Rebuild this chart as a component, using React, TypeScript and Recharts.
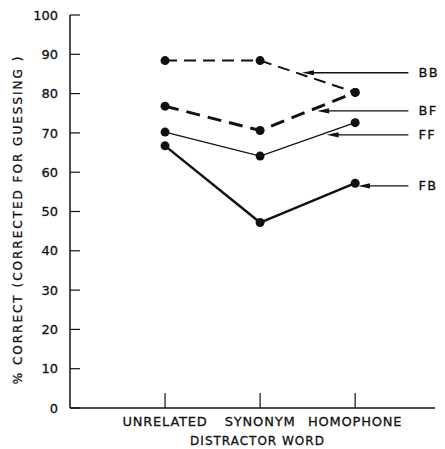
import { LineChart, Line, XAxis, YAxis, ReferenceLine } from "recharts";

const categories = ["UNRELATED", "SYNONYM", "HOMOPHONE"];
const bbValues = [88.4, 88.4, 80.3];
const bfValues = [76.8, 70.6, 80.3];
const ffValues = [70.2, 64.1, 72.6];
const fbValues = [66.7, 47.2, 57.2];
const yTicks = [0, 10, 20, 30, 40, 50, 60, 70, 80, 90, 100];

// arrow annotations pointing at the curves (x in category units, y in %)
const arrowLabels = ["BB", "BF", "FF", "FB"];
const arrowY = [85.3, 75.6, 69.5, 56.5];
const arrowTipX = [2.44, 2.6, 2.7, 3.03];
const arrowTailX = 3.56;

const data = categories.map((c, i) => ({
  x: i + 1,
  name: c,
  BB: bbValues[i],
  BF: bfValues[i],
  FF: ffValues[i],
  FB: fbValues[i],
}));

const font = "'DejaVu Sans', sans-serif";
const ink = "#111";

const arrowShape = (label: string) => (p: any) => {
  const tip = Math.min(p.x1, p.x2);
  const tail = Math.max(p.x1, p.x2);
  const y = p.y1;
  return (
    <g>
      <line x1={tip + 8} y1={y} x2={tail} y2={y} stroke={ink} strokeWidth={1.3} />
      <polygon points={`${tip},${y} ${tip + 12},${y - 2.6} ${tip + 12},${y + 2.6}`} fill={ink} />
      <text x={tail + 10} y={y} dominantBaseline="central" fontFamily={font} fontSize={13} letterSpacing={1.5} fill={ink} stroke={ink} strokeWidth={0.3}>
        {label}
      </text>
    </g>
  );
};

const dot = { r: 4.5, fill: ink, stroke: ink, strokeWidth: 0 };
const tickText = { fill: ink, fontFamily: font, stroke: ink, strokeWidth: 0.3 };

export default function App() {
  return (
    <div style={{ position: "absolute", left: 0, top: 0, background: "#fff" }}>
      <LineChart width={445} height={449} data={data} margin={{ top: 15, right: 10, bottom: 0, left: 0 }}>
        <XAxis
          dataKey="x"
          type="number"
          domain={[0, 3.84]}
          ticks={[1, 2, 3]}
          tickFormatter={(v) => categories[v - 1]}
          height={41}
          axisLine={{ stroke: ink, strokeWidth: 1.5 }}
          tickLine={{ stroke: ink, strokeWidth: 1.2 }}
          tickSize={-15}
          tickMargin={24}
          tick={{ ...tickText, fontSize: 13, letterSpacing: 0.8 }}
          label={{ value: "DISTRACTOR WORD", position: "insideBottom", offset: 4, fontSize: 12, letterSpacing: 1, dx: 5, ...tickText }}
        />
        <YAxis
          type="number"
          domain={[0, 100]}
          ticks={yTicks}
          width={70}
          axisLine={{ stroke: ink, strokeWidth: 1.5 }}
          tickLine={{ stroke: ink, strokeWidth: 1.2 }}
          tickSize={-10}
          tickMargin={22}
          tick={{ ...tickText, fontSize: 13 }}
          label={{
            content: (p: any) => {
              const vb = p.viewBox;
              const cx = vb.x + 18;
              const cy = vb.y + vb.height / 2 + 8;
              return (
                <text x={cx} y={cy} transform={`rotate(-90 ${cx} ${cy})`} textAnchor="middle" dominantBaseline="central" fontFamily={font} fontSize={12} letterSpacing={2} fill={ink} stroke={ink} strokeWidth={0.3}>
                  % CORRECT (CORRECTED FOR GUESSING )
                </text>
              );
            },
          }}
        />
        <Line dataKey="BB" type="linear" stroke={ink} strokeWidth={2} strokeDasharray="12 7" dot={dot} activeDot={false} isAnimationActive={false} />
        <Line dataKey="BF" type="linear" stroke={ink} strokeWidth={3} strokeDasharray="14 8" dot={dot} activeDot={false} isAnimationActive={false} />
        <Line dataKey="FF" type="linear" stroke={ink} strokeWidth={1.4} dot={dot} activeDot={false} isAnimationActive={false} />
        <Line dataKey="FB" type="linear" stroke={ink} strokeWidth={2.4} dot={dot} activeDot={false} isAnimationActive={false} />
        {arrowLabels.map((label, i) => (
          <ReferenceLine
            key={label}
            segment={[{ x: arrowTipX[i], y: arrowY[i] }, { x: arrowTailX, y: arrowY[i] }]}
            ifOverflow="visible"
            shape={arrowShape(label)}
          />
        ))}
      </LineChart>
    </div>
  );
}
